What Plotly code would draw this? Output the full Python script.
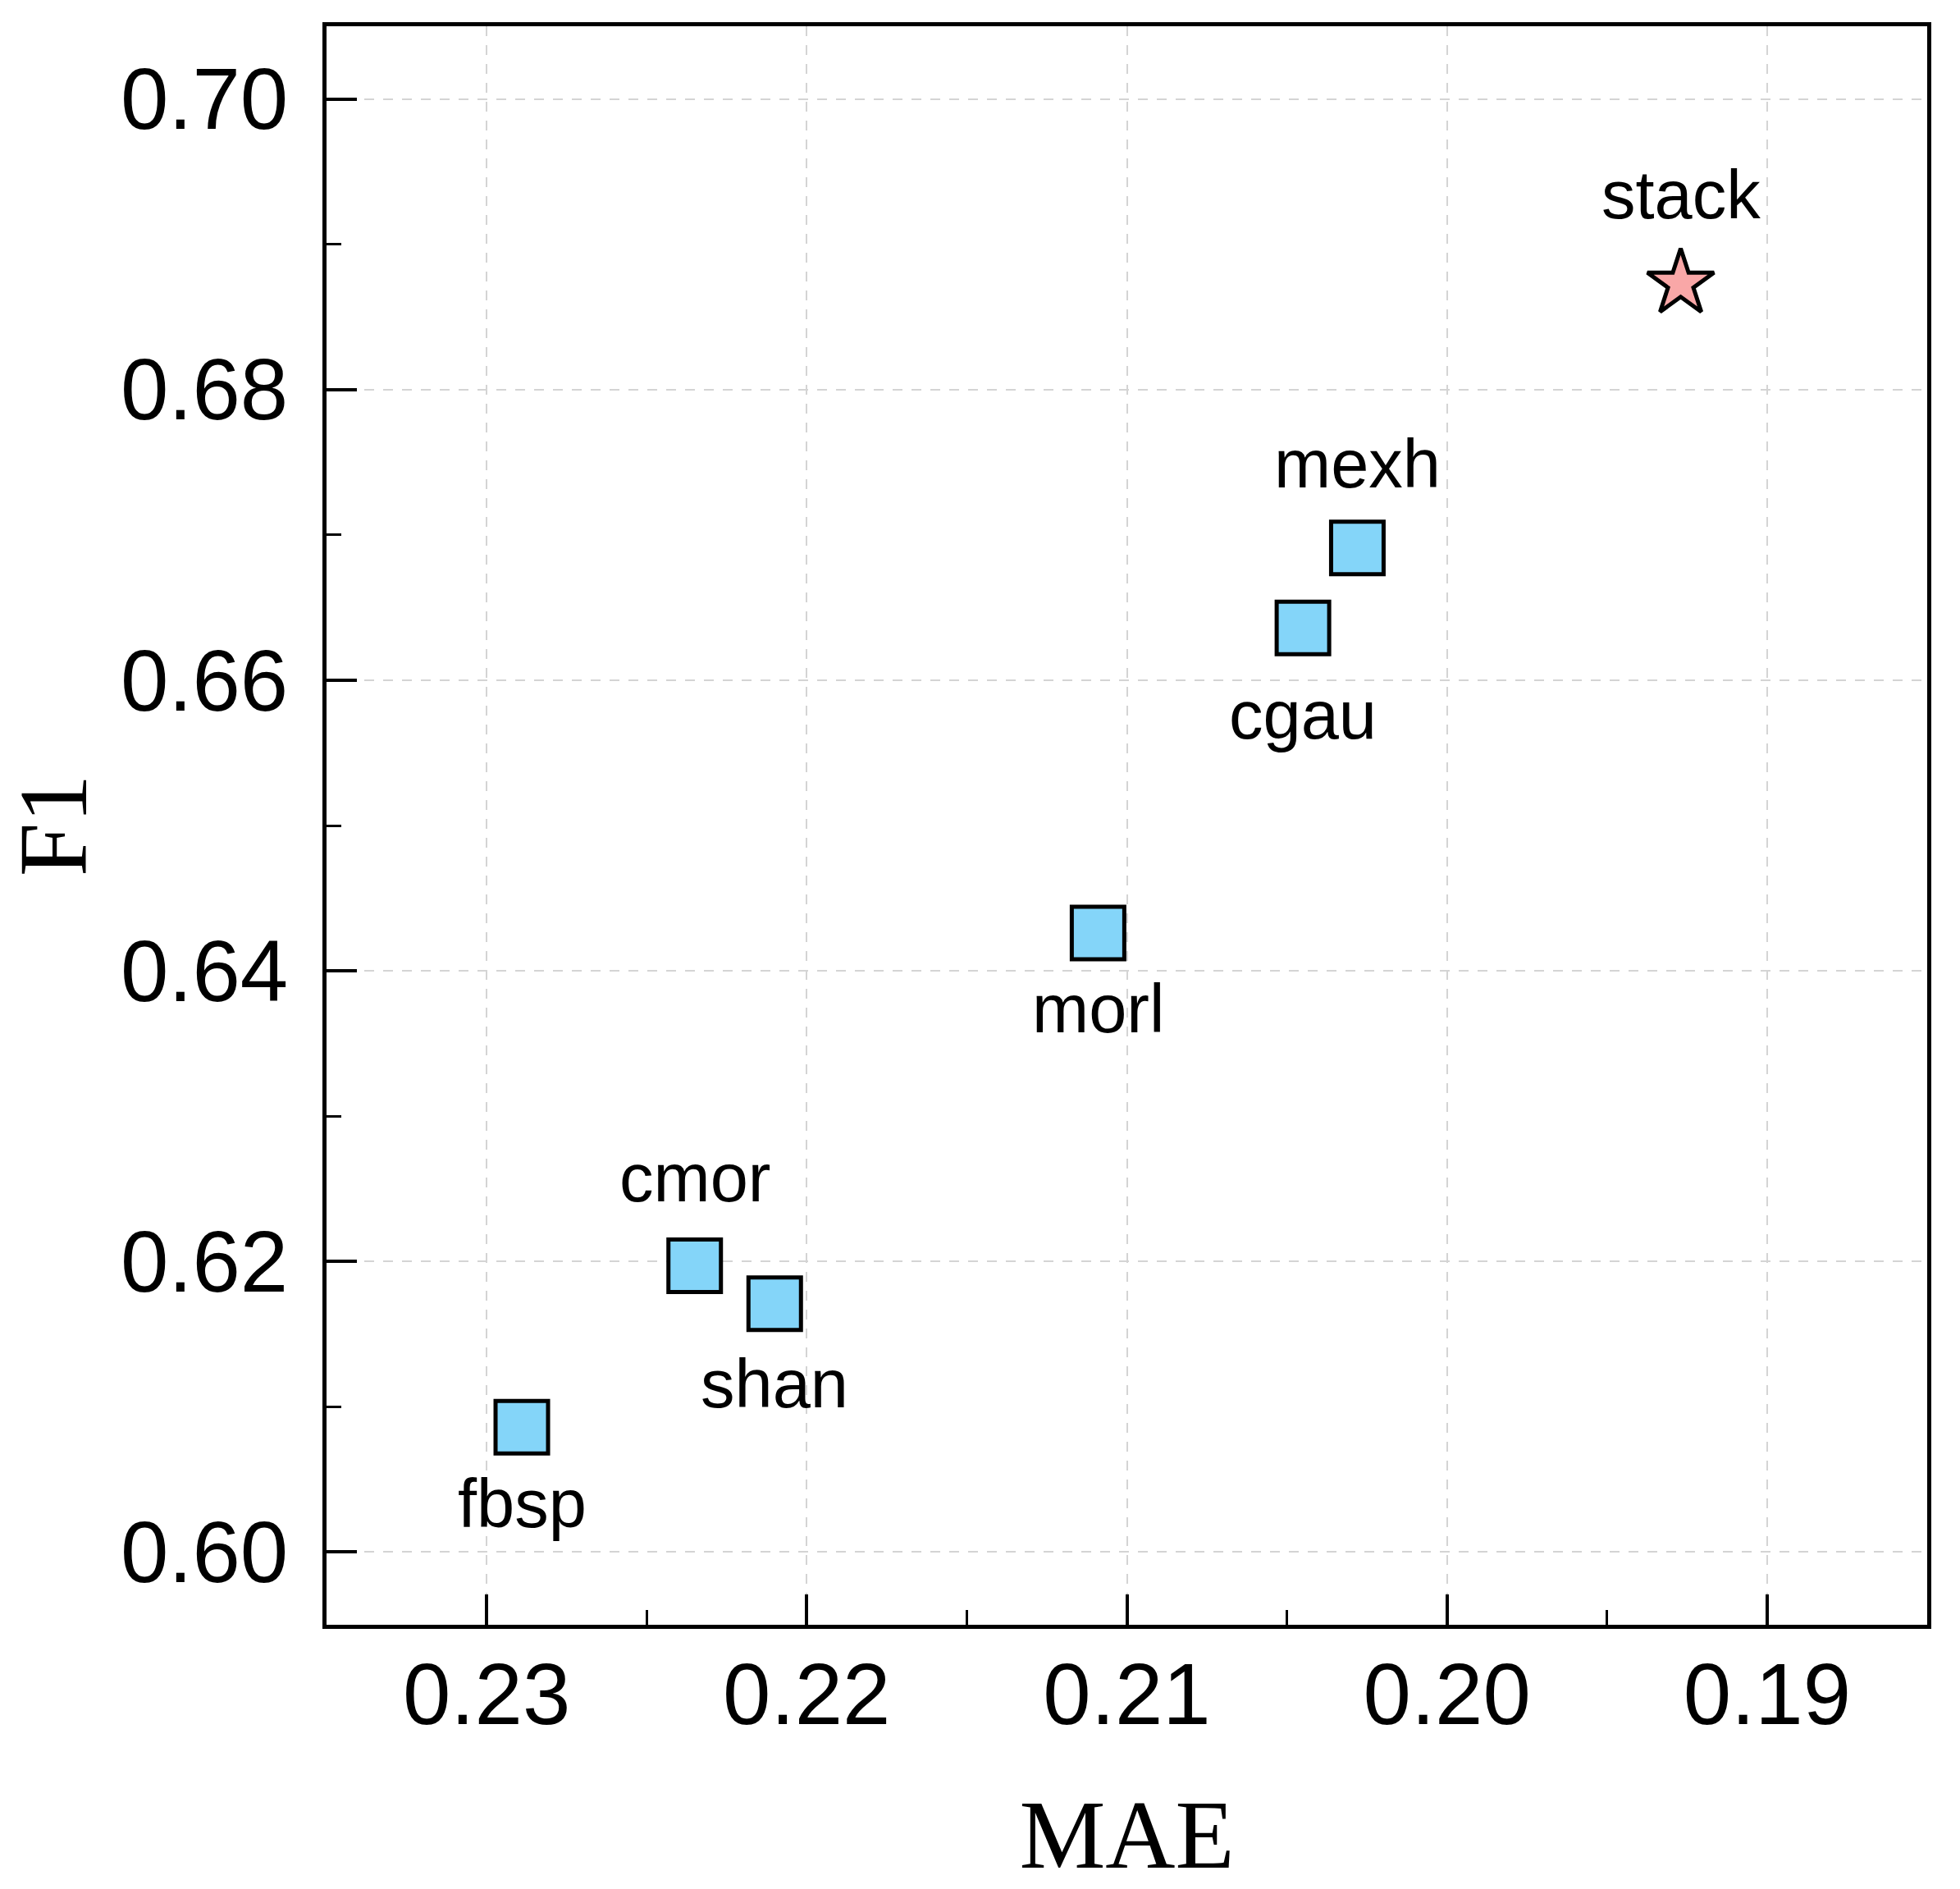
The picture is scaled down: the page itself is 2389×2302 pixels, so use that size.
import plotly.graph_objects as go

# ---- data ----
names = ["fbsp", "cmor", "shan", "morl", "cgau", "mexh"]
mae = [0.2289, 0.2235, 0.2210, 0.2109, 0.2045, 0.2028]
f1 = [0.6086, 0.6197, 0.6171, 0.6426, 0.6636, 0.6691]

stack_name = ["stack"]
stack_mae = [0.1927]
stack_f1 = [0.6873]

x_ticks = [0.23, 0.22, 0.21, 0.20, 0.19]
x_ticklabels = ["0.23", "0.22", "0.21", "0.20", "0.19"]
y_ticks = [0.60, 0.62, 0.64, 0.66, 0.68, 0.70]
y_ticklabels = ["0.60", "0.62", "0.64", "0.66", "0.68", "0.70"]

# label placement (pixel shift of each text from its marker; + is up)
label_shift = [-93, 107, -98, -92, -106, 102]
stack_shift = [108]

W, H = 2389, 2302
SANS = "Arial, Liberation Sans, sans-serif"
SERIF = "Times New Roman, Liberation Serif, serif"

fig = go.Figure()
fig.add_trace(go.Scatter(
    x=mae, y=f1, mode="markers", name="wavelets",
    marker=dict(symbol="square", size=64, color="#84D5F9",
                line=dict(color="black", width=5)),
    showlegend=False, hoverinfo="skip"))
fig.add_trace(go.Scatter(
    x=stack_mae, y=stack_f1, mode="markers", name="stack",
    marker=dict(symbol="star", size=61, color="#F9A7A7",
                line=dict(color="black", width=5)),
    showlegend=False, hoverinfo="skip"))

def add_labels(ns, xs, ys, shifts):
    for n, xv, yv, s in zip(ns, xs, ys, shifts):
        fig.add_annotation(x=xv, y=yv, xref="x", yref="y", text=n,
                           showarrow=False, xanchor="center", yanchor="middle",
                           yshift=s,
                           font=dict(family=SANS, size=83, color="black"))

add_labels(names, mae, f1, label_shift)
add_labels(stack_name, stack_mae, stack_f1, stack_shift)

axis_common = dict(
    showline=True, linecolor="black", linewidth=4.5, mirror=True,
    ticks="inside", ticklen=37, tickwidth=4, tickcolor="black",
    showgrid=True, gridcolor="#d4d4d4", gridwidth=2.2, griddash="12px,11px",
    zeroline=False,
    tickfont=dict(family=SANS, size=105, color="black"),
)

fig.update_xaxes(
    range=[0.235, 0.185], tickmode="array", tickvals=x_ticks, ticktext=x_ticklabels,
    minor=dict(dtick=0.005, ticks="inside", ticklen=18, tickwidth=3.3,
               tickcolor="black", showgrid=False),
    ticklabelstandoff=-10,
    title=dict(text="MAE", font=dict(family=SERIF, size=118, color="black"), standoff=82),
    **axis_common)
fig.update_yaxes(
    range=[0.595, 0.705], tickmode="array", tickvals=y_ticks, ticktext=y_ticklabels,
    minor=dict(dtick=0.01, ticks="inside", ticklen=18, tickwidth=3.3,
               tickcolor="black", showgrid=False),
    ticklabelstandoff=21,
    title=dict(text="F1", font=dict(family=SERIF, size=118, color="black"), standoff=63),
    **axis_common)

fig.update_layout(
    width=W, height=H,
    margin=dict(l=398, r=40, t=32, b=322, autoexpand=False),
    plot_bgcolor="white", paper_bgcolor="white",
)

fig.write_html("out.html", config={"displayModeBar": False},
               post_script="document.body.style.margin='0px';")
